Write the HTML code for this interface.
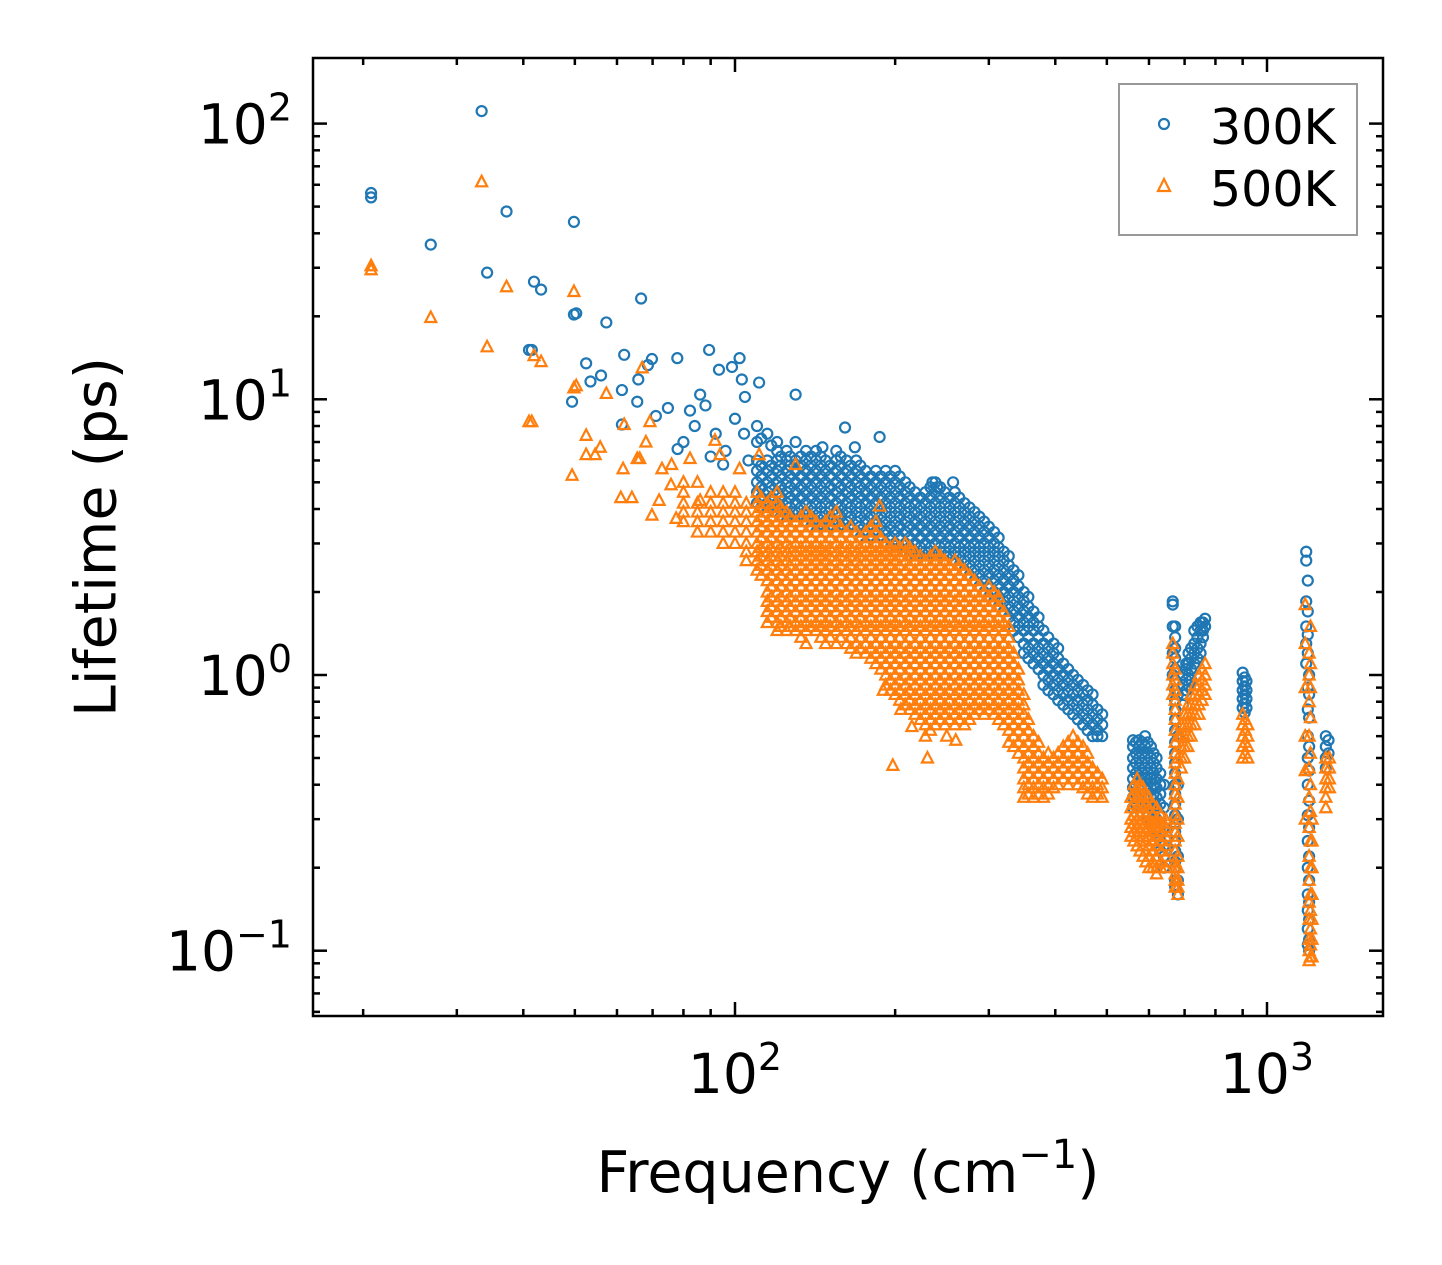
<!DOCTYPE html>
<html><head><meta charset="utf-8"><style>
html,body{margin:0;padding:0;background:#fff;}
svg{display:block;font-family:"DejaVu Sans","Liberation Sans",sans-serif;}
</style></head><body>
<svg id="chart" width="1442" height="1265" viewBox="0 0 1442 1265" xmlns="http://www.w3.org/2000/svg">
<rect x="0" y="0" width="1442" height="1265" fill="#fff"/>
<defs><clipPath id="pc"><rect x="313" y="58" width="1070" height="958"/></clipPath></defs>
<g id="marks" clip-path="url(#pc)"></g>
<g id="axes"></g>
<rect x="313" y="58" width="1070" height="958" fill="none" stroke="#000" stroke-width="2.5"/>
<text x="100" y="537" font-size="57" text-anchor="middle" transform="rotate(-90 100 537)" dominant-baseline="middle">Lifetime (ps)</text>
<text x="848" y="1192" font-size="57" text-anchor="middle">Frequency (cm<tspan dy="-24" font-size="40">−1</tspan><tspan dy="24">)</tspan></text>
<g>
<rect x="1119" y="84" width="238" height="151" fill="#fff" stroke="#999" stroke-width="2"/>
<circle cx="1164" cy="124" r="5" fill="none" stroke="#1f77b4" stroke-width="2.2"/>
<text x="1210" y="144" font-size="49">300K</text>
<polygon points="1164,179 1170,191 1158,191" fill="none" stroke="#ff7f0e" stroke-width="2.2"/>
<text x="1210" y="206" font-size="49">500K</text>
</g>
</svg>
<script>
const xMajorTicks = [100, 1000];
const xMajorExp = ["2", "3"];
const xMinorTicks = [20,30,40,50,60,70,80,90,200,300,400,500,600,700,800,900];
const yMajorTicks = [0.1, 1, 10, 100];
const yMajorExp = ["−1", "0", "1", "2"];
const yMinorTicks = [0.06,0.07,0.08,0.09,0.2,0.3,0.4,0.5,0.6,0.7,0.8,0.9,2,3,4,5,6,7,8,9,20,30,40,50,60,70,80,90];

const blueSparse = [[20.7,56],[20.7,54],[26.8,36.4],[33.4,111],[34.2,28.8],[37.2,48],[41.9,26.7],[43.2,25],[41,15.1],[41.5,15.1],[49.8,44],[49.8,20.3],[50.3,20.5],[49.4,9.8],[52.5,13.5],[53.5,11.6],[56,12.2],[57.3,19],[61.9,14.5],[61.3,10.8],[61.3,8.1],[65.8,11.8],[65.5,9.8],[66.6,23.2],[68.6,13.3],[69.8,14],[71,8.7],[74.8,9.3],[77.9,14.1],[82.3,9.1],[86,10.4],[89.4,15.1],[93.3,12.8],[98.7,13.1],[102,14.1],[103,11.8],[104.4,10.2],[111,11.5],[130,10.4],[161,7.9],[187,7.3],[146,6.7],[168,6.7],[80,7],[84,8],[88,9.5],[92,7.5],[96,6.5],[100,8.5],[104,7.5],[106,6],[90,6.2],[95,5.8],[78,6.6],[235,5],[257,5],[240,4.8]];
const blueCols = [
[110,[8,7,6,5.5,5,4.6,4.2]],[115,[7.5,6,5.5,5,4.6,4.2,3.9]],[120,[7,6.5,6,5.5,5,4.6,4.2,3.9]],[125,[6.5,6,5.5,5,4.6,4.2,3.9,3.6]],
[130,[7,6,5.5,5,4.6,4.2,3.9,3.6]],[136,[6.5,6,5.5,5,4.6,4.2,3.9,3.6]],[142,[6.5,6,5.5,5,4.6,4.2,3.9,3.6,3.3]],[148,[6,5.5,5,4.6,4.2,3.9,3.6,3.3]],
[155,[6.5,6,5.5,5,4.6,4.2,3.9,3.6,3.3]],[162,[6,5.5,5,4.6,4.2,3.9,3.6,3.3]],[169,[6,5.5,5,4.6,4.2,3.9,3.6,3.3]],[176,[5.5,5,4.6,4.2,3.9,3.6,3.3,3.0]],
[184,[5.5,5,4.6,4.2,3.9,3.6,3.3,3.0]],[192,[5.5,5,4.6,4.2,3.9,3.6,3.3,3.0]],[200,[5.5,5,4.6,4.2,3.9,3.6,3.3,3.0,2.8]],[209,[5,4.6,4.2,3.9,3.6,3.3,3.0,2.8]],
[218,[4.6,4.2,3.9,3.6,3.3,3.0,2.8,2.6]],[228,[4.6,4.2,3.9,3.6,3.3,3.0,2.8,2.6]],[238,[5,4.6,4.2,3.9,3.6,3.3,3.0,2.8,2.6]],[248,[4.6,4.2,3.9,3.6,3.3,3.0,2.8,2.6]],
[259,[4.6,4.2,3.9,3.6,3.3,3.0,2.8,2.6]],[270,[4.2,3.9,3.6,3.3,3.0,2.8,2.6,2.4]],[282,[3.9,3.6,3.3,3.0,2.8,2.6,2.4,2.2]],[294,[3.6,3.3,3.0,2.8,2.6,2.4,2.2,2.0]],
[307,[3.3,3.0,2.8,2.6,2.4,2.2,2.0,1.85]],[320,[2.8,2.6,2.4,2.2,2.0,1.85,1.7]],[334,[2.4,2.2,2.0,1.85,1.7,1.55,1.45]],[349,[2.0,1.85,1.7,1.55,1.45,1.3,1.2]],
[364,[1.7,1.55,1.45,1.3,1.2,1.1]],[380,[1.45,1.3,1.2,1.1,1.0,0.92]],[397,[1.3,1.2,1.1,1.0,0.92,0.85]],[414,[1.1,1.0,0.92,0.85,0.78]],
[432,[1.0,0.92,0.85,0.78,0.72]],[451,[0.92,0.85,0.78,0.72,0.66]],[470,[0.85,0.78,0.72,0.66,0.6]],[490,[0.72,0.66,0.6]],
[560,[0.58,0.55,0.5,0.46,0.42,0.39,0.36,0.33]],[575,[0.58,0.55,0.5,0.46,0.42,0.39,0.36]],[590,[0.6,0.55,0.5,0.46,0.42,0.39,0.36,0.33]],
[605,[0.55,0.5,0.46,0.42,0.39,0.36,0.33,0.3]],[620,[0.5,0.46,0.42,0.39,0.36,0.33,0.3,0.28,0.26]],[640,[0.4,0.33,0.28,0.24,0.22,0.2]],
[665,[1.85,1.8,1.5,1.2,1.0]],[680,[0.85,0.6,0.4,0.3,0.22,0.18,0.16]],[695,[1.0,0.92,0.85,0.78]],[712,[1.2,1.1,1.0,0.92]],
[730,[1.45,1.3,1.2,1.1]],[750,[1.55,1.45,1.3,1.2]],[765,[1.6,1.5]],
[900,[1.02,0.95,0.88,0.82,0.76]],[915,[0.95,0.88,0.82,0.76]],
[1185,[2.8,2.6,1.85,1.5,1.3,1.1]],[1200,[1.0,0.85,0.7,0.55,0.45,0.35,0.28,0.22,0.18,0.15,0.13,0.11,0.1]],
[1290,[0.6,0.55,0.5,0.46]],[1305,[0.58,0.52]]
];
const blueCols2 = [
[112,[7.2,5.75,5.25,4.8,4.4,4.05]],[117,[6.8,5.75,5.25,4.8,4.4,4.05]],[122,[6.2,5.75,5.25,4.8,4.4,4.05,3.75]],[127,[6.2,5.75,5.25,4.8,4.4,4.05,3.75]],
[133,[6.2,5.75,5.25,4.8,4.4,4.05,3.75]],[139,[6.2,5.75,5.25,4.8,4.4,4.05,3.75,3.45]],[145,[6.2,5.75,5.25,4.8,4.4,4.05,3.75,3.45]],[151,[5.75,5.25,4.8,4.4,4.05,3.75,3.45]],
[158,[6.2,5.75,5.25,4.8,4.4,4.05,3.75,3.45]],[165,[5.75,5.25,4.8,4.4,4.05,3.75,3.45]],[172,[5.75,5.25,4.8,4.4,4.05,3.75,3.45,3.15]],[180,[5.25,4.8,4.4,4.05,3.75,3.45,3.15]],
[188,[5.25,4.8,4.4,4.05,3.75,3.45,3.15]],[196,[5.25,4.8,4.4,4.05,3.75,3.45,3.15,2.9]],[204,[5.25,4.8,4.4,4.05,3.75,3.45,3.15,2.9]],[213,[4.8,4.4,4.05,3.75,3.45,3.15,2.9,2.7]],
[223,[4.4,4.05,3.75,3.45,3.15,2.9,2.7]],[233,[4.8,4.4,4.05,3.75,3.45,3.15,2.9,2.7]],[243,[4.8,4.4,4.05,3.75,3.45,3.15,2.9,2.7]],[253,[4.4,4.05,3.75,3.45,3.15,2.9,2.7]],
[264,[4.4,4.05,3.75,3.45,3.15,2.9,2.7,2.5]],[276,[4.05,3.75,3.45,3.15,2.9,2.7,2.5,2.3]],[288,[3.75,3.45,3.15,2.9,2.7,2.5,2.3,2.1]],[300,[3.45,3.15,2.9,2.7,2.5,2.3,2.1,1.92]],
[313,[3.15,2.9,2.7,2.5,2.3,2.1,1.92,1.77]],[327,[2.7,2.5,2.3,2.1,1.92,1.77,1.62]],[341,[2.3,2.1,1.92,1.77,1.62,1.5,1.37]],[356,[1.92,1.77,1.62,1.5,1.37,1.25,1.15]],
[372,[1.62,1.5,1.37,1.25,1.15,1.05]],[388,[1.37,1.25,1.15,1.05,0.96,0.88]],[405,[1.25,1.15,1.05,0.96,0.88,0.81]],[423,[1.05,0.96,0.88,0.81,0.75]],
[441,[0.96,0.88,0.81,0.75,0.69]],[460,[0.88,0.81,0.75,0.69,0.63]],[480,[0.75,0.69,0.63,0.6]],
[567,[0.57,0.52,0.48,0.44,0.4,0.37,0.34]],[582,[0.57,0.52,0.48,0.44,0.4,0.37,0.34]],[597,[0.57,0.52,0.48,0.44,0.4,0.37,0.34,0.31]],
[612,[0.52,0.48,0.44,0.4,0.37,0.34,0.31,0.29]],[630,[0.44,0.4,0.37,0.34,0.31,0.29,0.27,0.25,0.23]],
[672,[1.5,1.37,1.25,1.15,1.05,0.96,0.88,0.81,0.75,0.69,0.63,0.57,0.52,0.48,0.44,0.4,0.37,0.34,0.31,0.29,0.27,0.25,0.23,0.21,0.2,0.18,0.17]],
[705,[1.1,1.05,0.96,0.88]],[720,[1.25,1.15,1.05,0.96]],[740,[1.5,1.37,1.25,1.15]],[758,[1.55,1.45,1.37]],
[908,[0.98,0.91,0.85,0.79,0.73]],
[1193,[2.2,1.7,1.4,1.2,0.9,0.75,0.6,0.5,0.4,0.31,0.25,0.2,0.16,0.14,0.12,0.105]]
];
const orangeSparse = [[20.7,30.5],[20.7,29.5],[26.8,19.8],[33.4,61.5],[34.2,15.5],[37.2,25.6],[41,8.3],[41.5,8.3],[41.9,14.4],[43.2,13.7],[49.8,24.6],[49.8,11],[50.3,11.2],[49.4,5.3],[52.5,7.4],[52.5,6.3],[54.6,6.3],[55.8,6.7],[57.3,10.5],[61,4.4],[61.9,8.1],[61.6,5.6],[65.5,6.1],[66.2,6.1],[66.9,13],[69.2,8.3],[69.8,3.8],[72.9,5.6],[75.8,4.9],[77.5,3.7],[82.3,6.1],[86,4.3],[91.7,7.1],[93.7,6.3],[102,5.6],[111,6.3],[130,5.8],[187,4.1],[198,0.47],[230,0.5],[68,7],[72,4.3],[76,5.8],[64,4.4],[190,0.88],[205,0.75],[215,0.65],[250,0.6],[260,0.58]];
const orangeCols = [
[80,[5,4.6,4.2,3.9,3.6]],[85,[5,4.2,3.9,3.6,3.3]],[90,[4.6,4.2,3.9,3.6,3.3]],[95,[4.6,4.2,3.9,3.6,3.3,3.0]],[100,[4.6,4.2,3.9,3.6,3.3,3.0]],
[105,[4.2,3.9,3.6,3.3,3.0,2.8,2.6]],[110,[4.6,4.2,3.9,3.6,3.3,3.0,2.8,2.6,2.4]],
[115,[4.2,3.9,3.6,3.3,3.0,2.8,2.6,2.4,2.2,2.0,1.85,1.7,1.55]],[120,[4.6,4.2,3.9,3.6,3.3,3.0,2.8,2.6,2.4,2.2,2.0,1.85,1.7,1.55,1.45]],
[125,[3.9,3.6,3.3,3.0,2.8,2.6,2.4,2.2,2.0,1.85,1.7,1.55,1.45]],[130,[3.6,3.3,3.0,2.8,2.6,2.4,2.2,2.0,1.85,1.7,1.55,1.45]],
[136,[3.9,3.6,3.3,3.0,2.8,2.6,2.4,2.2,2.0,1.85,1.7,1.55,1.45,1.3]],[142,[3.6,3.3,3.0,2.8,2.6,2.4,2.2,2.0,1.85,1.7,1.55,1.45]],
[148,[3.6,3.3,3.0,2.8,2.6,2.4,2.2,2.0,1.85,1.7,1.55,1.45,1.3]],[155,[3.9,3.6,3.3,3.0,2.8,2.6,2.4,2.2,2.0,1.85,1.7,1.55,1.45,1.3]],
[162,[3.3,3.0,2.8,2.6,2.4,2.2,2.0,1.85,1.7,1.55,1.45,1.3]],[169,[3.3,3.0,2.8,2.6,2.4,2.2,2.0,1.85,1.7,1.55,1.45,1.3,1.2]],
[176,[3.3,3.0,2.8,2.6,2.4,2.2,2.0,1.85,1.7,1.55,1.45,1.3,1.2]],[184,[3.6,3.3,3.0,2.8,2.6,2.4,2.2,2.0,1.85,1.7,1.55,1.45,1.3,1.2,1.1]],
[192,[3.0,2.8,2.6,2.4,2.2,2.0,1.85,1.7,1.55,1.45,1.3,1.2,1.1,1.0,0.92]],[200,[3.0,2.8,2.6,2.4,2.2,2.0,1.85,1.7,1.55,1.45,1.3,1.2,1.1,1.0,0.92,0.85]],
[209,[3.0,2.8,2.6,2.4,2.2,2.0,1.85,1.7,1.55,1.45,1.3,1.2,1.1,1.0,0.92,0.85,0.78]],[218,[2.8,2.6,2.4,2.2,2.0,1.85,1.7,1.55,1.45,1.3,1.2,1.1,1.0,0.92,0.85,0.78,0.72]],
[228,[2.6,2.4,2.2,2.0,1.85,1.7,1.55,1.45,1.3,1.2,1.1,1.0,0.92,0.85,0.78,0.72,0.66,0.6]],[238,[2.8,2.6,2.4,2.2,2.0,1.85,1.7,1.55,1.45,1.3,1.2,1.1,1.0,0.92,0.85,0.78,0.72,0.66]],
[248,[2.6,2.4,2.2,2.0,1.85,1.7,1.55,1.45,1.3,1.2,1.1,1.0,0.92,0.85,0.78,0.72,0.66]],[259,[2.6,2.4,2.2,2.0,1.85,1.7,1.55,1.45,1.3,1.2,1.1,1.0,0.92,0.85,0.78,0.72,0.66]],
[270,[2.4,2.2,2.0,1.85,1.7,1.55,1.45,1.3,1.2,1.1,1.0,0.92,0.85,0.78,0.72,0.66]],[282,[2.2,2.0,1.85,1.7,1.55,1.45,1.3,1.2,1.1,1.0,0.92,0.85,0.78,0.72]],
[294,[2.0,1.85,1.7,1.55,1.45,1.3,1.2,1.1,1.0,0.92,0.85,0.78,0.72]],[307,[2.0,1.85,1.7,1.55,1.45,1.3,1.2,1.1,1.0,0.92,0.85,0.78,0.72]],
[320,[1.7,1.55,1.45,1.3,1.2,1.1,1.0,0.92,0.85,0.78,0.72,0.66]],[334,[1.2,1.1,1.0,0.92,0.85,0.78,0.72,0.66,0.6,0.55]],
[349,[0.85,0.78,0.72,0.66,0.6,0.55,0.5,0.46,0.42,0.39,0.36]],[364,[0.6,0.55,0.5,0.46,0.42,0.39,0.36]],[380,[0.5,0.46,0.42,0.39,0.36]],
[397,[0.5,0.46,0.42,0.39]],[414,[0.55,0.5,0.46,0.42]],[432,[0.6,0.55,0.5,0.46,0.42]],[451,[0.55,0.5,0.46,0.42,0.39]],[470,[0.46,0.42,0.39,0.36]],[490,[0.42,0.39,0.36]],
[555,[0.36,0.33,0.3,0.28,0.26]],[570,[0.42,0.39,0.36,0.33,0.3,0.28,0.26,0.24]],[585,[0.39,0.36,0.33,0.3,0.28,0.26,0.24,0.22]],
[600,[0.36,0.33,0.3,0.28,0.26,0.24,0.22,0.2]],[620,[0.33,0.3,0.28,0.26,0.24,0.22,0.2,0.19]],[645,[0.3,0.28,0.26,0.24,0.22,0.2]],
[665,[1.3,1.2,1.1,1.0,0.92,0.85]],[680,[0.6,0.5,0.42,0.36,0.3,0.26,0.22,0.2,0.18,0.17,0.16]],[700,[0.72,0.66,0.6,0.55,0.5]],
[720,[0.85,0.78,0.72,0.66,0.6]],[745,[1.0,0.92,0.85,0.78,0.72]],[765,[1.1,1.0,0.92,0.85]],
[900,[0.72,0.66,0.6,0.55,0.5]],[920,[0.66,0.6,0.55,0.5]],
[1180,[1.8,1.3,0.9,0.6,0.45,0.3]],[1200,[1.2,1.0,0.8,0.6,0.46,0.36,0.28,0.22,0.18,0.15,0.13,0.11,0.1,0.092]],
[1215,[0.3,0.25,0.2,0.16,0.13,0.11,0.095]],[1290,[0.5,0.46,0.42,0.39,0.36,0.33]],[1310,[0.5,0.46,0.42,0.39]]
];
const orangeCols2 = [
[112,[4.4,4.05,3.75,3.45,3.15,2.9,2.7,2.5,2.3]],[117,[4.4,4.05,3.75,3.45,3.15,2.9,2.7,2.5,2.3,2.1,1.92,1.77,1.62]],
[122,[4.05,3.75,3.45,3.15,2.9,2.7,2.5,2.3,2.1,1.92,1.77,1.62,1.5]],[127,[3.75,3.45,3.15,2.9,2.7,2.5,2.3,2.1,1.92,1.77,1.62,1.5]],
[133,[3.75,3.45,3.15,2.9,2.7,2.5,2.3,2.1,1.92,1.77,1.62,1.5,1.37]],[139,[3.75,3.45,3.15,2.9,2.7,2.5,2.3,2.1,1.92,1.77,1.62,1.5]],
[145,[3.45,3.15,2.9,2.7,2.5,2.3,2.1,1.92,1.77,1.62,1.5,1.37]],[151,[3.75,3.45,3.15,2.9,2.7,2.5,2.3,2.1,1.92,1.77,1.62,1.5,1.37]],
[158,[3.45,3.15,2.9,2.7,2.5,2.3,2.1,1.92,1.77,1.62,1.5,1.37]],[165,[3.45,3.15,2.9,2.7,2.5,2.3,2.1,1.92,1.77,1.62,1.5,1.37,1.25]],
[172,[3.15,2.9,2.7,2.5,2.3,2.1,1.92,1.77,1.62,1.5,1.37,1.25]],[180,[3.45,3.15,2.9,2.7,2.5,2.3,2.1,1.92,1.77,1.62,1.5,1.37,1.25,1.15]],
[188,[3.15,2.9,2.7,2.5,2.3,2.1,1.92,1.77,1.62,1.5,1.37,1.25,1.15,1.05]],[196,[2.9,2.7,2.5,2.3,2.1,1.92,1.77,1.62,1.5,1.37,1.25,1.15,1.05,0.96,0.88]],
[204,[2.9,2.7,2.5,2.3,2.1,1.92,1.77,1.62,1.5,1.37,1.25,1.15,1.05,0.96,0.88,0.81]],[213,[2.9,2.7,2.5,2.3,2.1,1.92,1.77,1.62,1.5,1.37,1.25,1.15,1.05,0.96,0.88,0.81,0.75]],
[223,[2.7,2.5,2.3,2.1,1.92,1.77,1.62,1.5,1.37,1.25,1.15,1.05,0.96,0.88,0.81,0.75,0.69]],[233,[2.7,2.5,2.3,2.1,1.92,1.77,1.62,1.5,1.37,1.25,1.15,1.05,0.96,0.88,0.81,0.75,0.69,0.63]],
[243,[2.7,2.5,2.3,2.1,1.92,1.77,1.62,1.5,1.37,1.25,1.15,1.05,0.96,0.88,0.81,0.75,0.69]],[253,[2.5,2.3,2.1,1.92,1.77,1.62,1.5,1.37,1.25,1.15,1.05,0.96,0.88,0.81,0.75,0.69]],
[264,[2.5,2.3,2.1,1.92,1.77,1.62,1.5,1.37,1.25,1.15,1.05,0.96,0.88,0.81,0.75,0.69]],[276,[2.3,2.1,1.92,1.77,1.62,1.5,1.37,1.25,1.15,1.05,0.96,0.88,0.81,0.75,0.69]],
[288,[2.1,1.92,1.77,1.62,1.5,1.37,1.25,1.15,1.05,0.96,0.88,0.81,0.75]],[300,[2.1,1.92,1.77,1.62,1.5,1.37,1.25,1.15,1.05,0.96,0.88,0.81,0.75]],
[313,[1.92,1.77,1.62,1.5,1.37,1.25,1.15,1.05,0.96,0.88,0.81,0.75,0.69]],[327,[1.5,1.37,1.25,1.15,1.05,0.96,0.88,0.81,0.75,0.69,0.63,0.57]],
[341,[1.05,0.96,0.88,0.81,0.75,0.69,0.63,0.57,0.52]],[356,[0.69,0.63,0.57,0.52,0.48,0.44,0.4,0.37]],[372,[0.57,0.52,0.48,0.44,0.4,0.37]],
[388,[0.52,0.48,0.44,0.4,0.37]],[405,[0.52,0.48,0.44,0.4]],[423,[0.57,0.52,0.48,0.44,0.4]],[441,[0.57,0.52,0.48,0.44,0.4]],
[460,[0.52,0.48,0.44,0.4,0.37]],[480,[0.44,0.4,0.37]],
[562,[0.4,0.37,0.34,0.31,0.29,0.27,0.25]],[577,[0.4,0.37,0.34,0.31,0.29,0.27,0.25,0.23]],[592,[0.37,0.34,0.31,0.29,0.27,0.25,0.23,0.21]],
[610,[0.34,0.31,0.29,0.27,0.25,0.23,0.21,0.2]],[632,[0.31,0.29,0.27,0.25,0.23,0.21,0.2]],
[672,[1.05,0.96,0.88,0.81,0.75,0.69,0.63,0.57,0.52,0.48,0.44,0.4,0.37,0.34,0.31,0.29,0.27,0.25,0.23,0.21,0.2,0.19,0.18,0.17]],
[690,[0.66,0.6,0.55,0.5,0.46]],[710,[0.78,0.72,0.66,0.6,0.55]],[732,[0.92,0.85,0.78,0.72,0.66]],[755,[1.05,0.96,0.88,0.81]],
[910,[0.69,0.63,0.57,0.52]],
[1207,[1.5,1.1,0.9,0.7,0.52,0.4,0.32,0.25,0.2,0.16,0.14,0.12,0.105,0.095]]
];

const NS = "http://www.w3.org/2000/svg";
function xs(f){ return 735 + 532*(Math.log10(f) - 2); }
function ys(l){ return 675 - 275.7*Math.log10(l); }
const marks = document.getElementById('marks');
const axes = document.getElementById('axes');

function circle(f,l){
  const c = document.createElementNS(NS,'circle');
  c.setAttribute('cx', xs(f)); c.setAttribute('cy', ys(l)); c.setAttribute('r', 5);
  c.setAttribute('fill','none'); c.setAttribute('stroke','#1f77b4'); c.setAttribute('stroke-width','2.2');
  
  
  marks.appendChild(c);
}
function tri(f,l){
  const x = xs(f), y = ys(l);
  const p = document.createElementNS(NS,'polygon');
  p.setAttribute('points', `${x},${y-6} ${x+5.5},${y+4.5} ${x-5.5},${y+4.5}`);
  p.setAttribute('fill','none'); p.setAttribute('stroke','#ff7f0e'); p.setAttribute('stroke-width','2.2');
  
  
  marks.appendChild(p);
}
blueSparse.forEach(d => circle(d[0], d[1]));
blueCols.forEach(c => c[1].forEach(l => circle(c[0], l)));
blueCols2.forEach(c => c[1].forEach(l => circle(c[0], l)));
orangeSparse.forEach(d => tri(d[0], d[1]));
orangeCols.forEach(c => c[1].forEach(l => tri(c[0], l)));
orangeCols2.forEach(c => c[1].forEach(l => tri(c[0], l)));

function line(x1,y1,x2,y2,name){
  const ln = document.createElementNS(NS,'line');
  ln.setAttribute('x1',x1); ln.setAttribute('y1',y1); ln.setAttribute('x2',x2); ln.setAttribute('y2',y2);
  ln.setAttribute('stroke','#000'); ln.setAttribute('stroke-width','2.5');
  
  
  axes.appendChild(ln);
}
function label(x,y,exp,anchor,name){
  const t = document.createElementNS(NS,'text');
  t.setAttribute('x',x); t.setAttribute('y',y); t.setAttribute('font-size','55'); t.setAttribute('text-anchor',anchor);
  t.innerHTML = `10<tspan dy="-23" font-size="38">${exp}</tspan>`;
  
  
  axes.appendChild(t);
}
xMajorTicks.forEach((v,i) => {
  const x = xs(v);
  line(x,1016,x,1002,'x-major-tick'); line(x,58,x,72,'x-major-tick-top');
  label(x,1093,xMajorExp[i],'middle','x-tick-label');
});
xMinorTicks.forEach(v => { const x = xs(v); line(x,1016,x,1009,'x-minor-tick'); line(x,58,x,65,'x-minor-tick-top'); });
yMajorTicks.forEach((v,i) => {
  const y = ys(v);
  line(313,y,327,y,'y-major-tick'); line(1383,y,1369,y,'y-major-tick-right');
  label(292,y+20,yMajorExp[i],'end','y-tick-label');
});
yMinorTicks.forEach(v => { const y = ys(v); line(313,y,320,y,'y-minor-tick'); line(1383,y,1376,y,'y-minor-tick-right'); });
</script>
</body></html>
